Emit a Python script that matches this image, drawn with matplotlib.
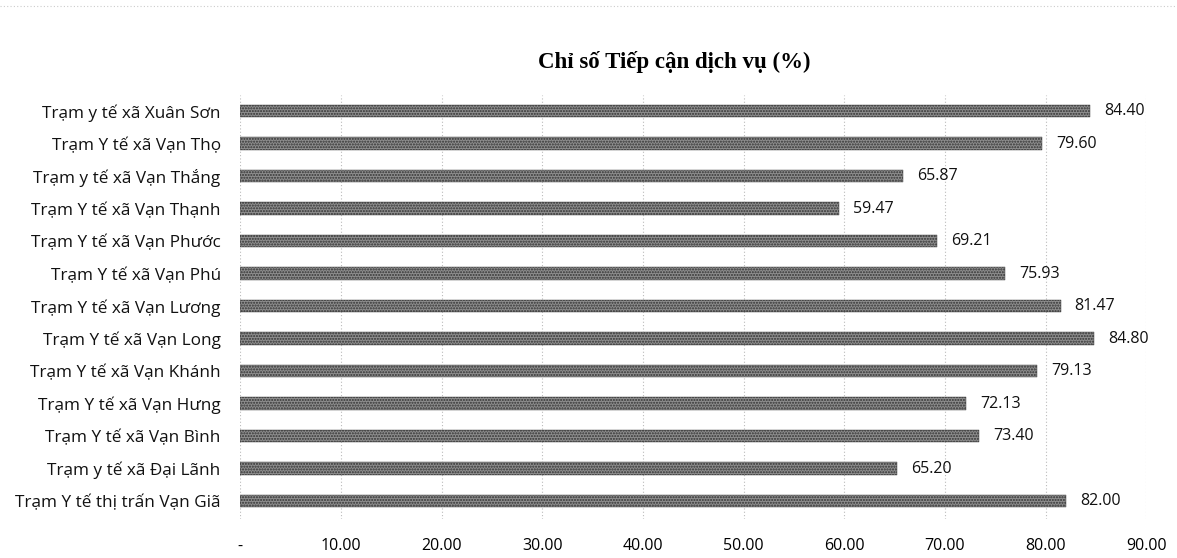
import matplotlib.pyplot as plt
import numpy as np

plt.rcParams['font.family'] = ['Open Sans', 'DejaVu Sans']

# du lieu (tu duoi len tren)
labels = ['Trạm Y tế thị trấn Vạn Giã', 'Trạm y tế xã Đại Lãnh', 'Trạm Y tế xã Vạn Bình',
          'Trạm Y tế xã Vạn Hưng', 'Trạm Y tế xã Vạn Khánh', 'Trạm Y tế xã Vạn Long',
          'Trạm Y tế xã Vạn Lương', 'Trạm Y tế xã Vạn Phú', 'Trạm Y tế xã Vạn Phước',
          'Trạm Y tế xã Vạn Thạnh', 'Trạm y tế xã Vạn Thắng', 'Trạm Y tế xã Vạn Th\u1ecd',
          'Trạm y tế xã Xuân Sơn']
values = [82.00, 65.20, 73.40, 72.13, 79.13, 84.80, 81.47, 75.93, 69.21, 59.47, 65.87, 79.60, 84.40]
xticks = [0, 10, 20, 30, 40, 50, 60, 70, 80, 90]
xticklabels = ['-', '10.00', '20.00', '30.00', '40.00', '50.00', '60.00', '70.00', '80.00', '90.00']

fig = plt.figure(figsize=(11.77, 5.58), dpi=100)
ax = fig.add_axes([0.204, 0.07, 0.77, 0.76])

y = np.arange(len(labels))
ax.barh(y, values, height=0.38, color='#8e8e8e', edgecolor='#333333', linewidth=0.3,
        hatch='......', zorder=2)
for yi, v in zip(y, values):
    ax.text(v + 1.4, yi, f'{v:.2f}', va='center', ha='left', fontsize=11.5, color='#111111')

ax.set_xlim(0, 90)
ax.set_ylim(-0.55, len(labels) - 0.5)
ax.set_xticks(xticks)
ax.set_xticklabels(xticklabels, fontsize=11.5)
ax.set_yticks(y)
ax.set_yticklabels(labels, fontsize=12.3, color='#111111')
ax.tick_params(axis='y', length=0, pad=14)
ax.tick_params(axis='x', length=0, pad=14)
ax.grid(axis='x', color='#bbbbbb', linestyle=(0, (1, 2)), linewidth=0.8, zorder=0)
for s in ax.spines.values():
    s.set_visible(False)

fig.text(0.573, 0.889, 'Chỉ số Tiếp cận dịch vụ (%)', ha='center', va='center',
         fontsize=16.5, fontweight='bold', family=['Liberation Serif', 'DejaVu Serif'])
fig.add_artist(plt.Line2D([0, 1], [0.99, 0.99], color='#cccccc', linestyle=(0, (1, 2)), linewidth=0.8))

fig.savefig('out.png', dpi=100)
